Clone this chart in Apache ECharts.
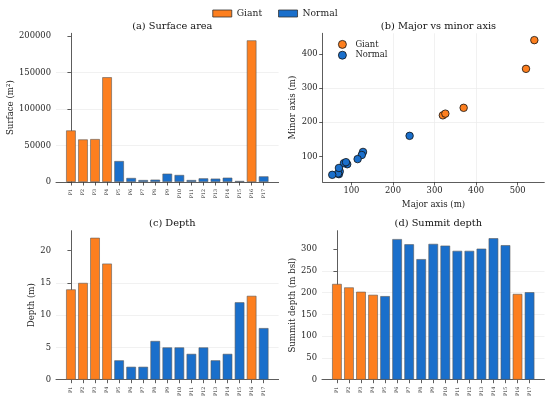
<!DOCTYPE html>
<html><head><meta charset="utf-8">
<script src="https://cdn.jsdelivr.net/npm/echarts@6/dist/echarts.min.js"></script>
<style>html,body{margin:0;padding:0;background:#fff}#c{width:550px;height:404px}</style>
</head><body><div id="c"></div>
<script>
const categories = ['P1','P2','P3','P4','P5','P6','P7','P8','P9','P10','P11','P12','P13','P14','P15','P16','P17'];
const groups = ['Giant','Giant','Giant','Giant','Normal','Normal','Normal','Normal','Normal','Normal','Normal','Normal','Normal','Normal','Normal','Giant','Normal'];
const surface = [70600,58300,58800,143500,28700,5500,2700,3200,11400,9600,2700,5000,4600,5900,1400,194000,7700];
const depth = [14,15,22,18,3,2,2,6,5,5,4,5,3,4,12,13,8];
const summitDepth = [220,212,202,195,192,323,311,277,312,308,296,296,301,325,309,197,201];
const majorAxis = [370,320,326,520,240,90,70,72,128,125,68,82,70,87,54,540,115];
const minorAxis = [242,220,225,356,160,77,48,56,113,104,50,80,66,83,46,440,92];
const surfaceTicks = [0,50000,100000,150000,200000];
const depthTicks = [0,5,10,15,20];
const summitTicks = [0,50,100,150,200,250,300];
const majorTicks = [100,200,300,400,500];
const minorTicks = [100,200,300,400];

const COLORS = {Giant:'#fd7f1f', Normal:'#1a6fcb'};
const FONT = 'DejaVu Serif';
const TXT = '#262626';
const idx = categories.map((_, i) => i);

function pick(values, g){
  return values.map((v,i)=> groups[i]===g ? [i, v] : null).filter(d=>d);
}

const grids = [
  {left:56, top:33.3, width:222.6, height:148.7},
  {left:322.7, top:33.3, width:221.6, height:148.7},
  {left:56, top:230.7, width:222.6, height:149},
  {left:322, top:230.7, width:222.5, height:149}
];

const axisLine = {lineStyle:{color:'#333', width:0.8}};
const gridLine = {show:true, showMinLine:false, showMaxLine:false, lineStyle:{color:'#ebebeb', width:0.7}};

function catX(gi){
  return {type:'value', gridIndex:gi, min:-1.24, max:17.24,
    axisLine, splitLine:{show:false},
    axisTick:{customValues:idx, length:3.5, lineStyle:{color:'#333', width:0.8}},
    axisLabel:{customValues:idx, formatter:v=>categories[Math.round(v)], rotate:90, fontSize:4.8, color:TXT, fontFamily:FONT, margin:7}
  };
}
function valY(gi, max, interval, ticks, name, gap, fmt){
  return {type:'value', gridIndex:gi, min:0, max:max, interval:interval,
    name:name, nameLocation:'middle', nameGap:gap, nameRotate:90,
    nameTextStyle:{fontFamily:FONT, fontSize:8.6, color:TXT},
    axisLine:{show:true, lineStyle:{color:'#333', width:0.8}},
    axisTick:{show:true, customValues:ticks, length:3.5, lineStyle:{color:'#333', width:0.8}},
    axisLabel:{customValues:ticks, fontFamily:FONT, fontSize:8.4, color:TXT, margin:5, formatter:fmt||(v=>String(v))},
    splitLine:gridLine
  };
}

const barSeries = [];
[[0,surface],[2,depth],[3,summitDepth]].forEach(([gi, vals])=>{
  ['Giant','Normal'].forEach(g=>{
    barSeries.push({type:'bar', name:g, xAxisIndex:gi, yAxisIndex:gi, data:pick(vals,g),
      barWidth:9.6, barGap:'-100%',
      itemStyle:{color:COLORS[g], borderColor:'#5a5a5a', borderWidth:0.6}});
  });
});

const scatterSeries = ['Giant','Normal'].map(g=>({
  type:'scatter', name:g, xAxisIndex:1, yAxisIndex:1,
  data: majorAxis.map((v,i)=> groups[i]===g ? [v, minorAxis[i]] : null).filter(d=>d),
  symbolSize:7.5, itemStyle:{color:COLORS[g], borderColor:'#111', borderWidth:0.8, opacity:1}
}));

const titleStyle = {fontFamily:FONT, fontSize:9.8, fontWeight:'normal', color:'#111'};
const option = {
  animation:false,
  backgroundColor:'#fff',
  title:[
    {text:'(a) Surface area', left:167.3, top:16, textAlign:'center', textStyle:titleStyle},
    {text:'(b) Major vs minor axis', left:433.5, top:16, textAlign:'center', textStyle:titleStyle},
    {text:'(c) Depth', left:167.3, top:213.5, textAlign:'center', textStyle:titleStyle},
    {text:'(d) Summit depth', left:433.3, top:213.5, textAlign:'center', textStyle:titleStyle}
  ],
  legend:[
    {data:['Giant','Normal'], left:'center', top:4, icon:'rect', itemWidth:19, itemHeight:7, itemGap:16,
      itemStyle:{borderColor:'#333', borderWidth:0.8},
      textStyle:{fontFamily:FONT, fontSize:9.2, color:TXT}, selectedMode:false},
    {data:['Giant','Normal'], left:333, top:35, orient:'vertical', icon:'circle', itemWidth:8, itemHeight:8, itemGap:2,
      itemStyle:{borderColor:'#111', borderWidth:0.8},
      textStyle:{fontFamily:FONT, fontSize:8.4, color:TXT, padding:[0,0,0,4]}, selectedMode:false}
  ],
  grid:grids,
  xAxis:[
    catX(0),
    {type:'value', gridIndex:1, min:31, max:564, splitNumber:5,
      name:'Major axis (m)', nameLocation:'middle', nameGap:18,
      nameTextStyle:{fontFamily:FONT, fontSize:8.6, color:TXT},
      axisLine, axisTick:{customValues:majorTicks, length:3.5, lineStyle:{color:'#333', width:0.8}},
      axisLabel:{customValues:majorTicks, fontFamily:FONT, fontSize:8.4, color:TXT, margin:5},
      splitLine:gridLine},
    catX(2),
    catX(3)
  ],
  yAxis:[
    valY(0, 203700, 50000, surfaceTicks, 'Surface (m²)', 40),
    {type:'value', gridIndex:1, min:25, max:460, splitNumber:5,
      name:'Minor axis (m)', nameLocation:'middle', nameGap:25, nameRotate:90,
      nameTextStyle:{fontFamily:FONT, fontSize:8.6, color:TXT},
      axisLine:{show:true, lineStyle:{color:'#333', width:0.8}},
      axisTick:{show:true, customValues:minorTicks, length:3.5, lineStyle:{color:'#333', width:0.8}},
      axisLabel:{customValues:minorTicks, fontFamily:FONT, fontSize:8.4, color:TXT, margin:5},
      splitLine:gridLine},
    valY(2, 23.1, 5, depthTicks, 'Depth (m)', 18),
    valY(3, 342.3, 50, summitTicks, 'Summit depth (m bsl)', 25)
  ],
  series: barSeries.concat(scatterSeries)
};
const chart = echarts.init(document.getElementById('c'), null, {renderer:'canvas'});
chart.setOption(option);
</script></body></html>
